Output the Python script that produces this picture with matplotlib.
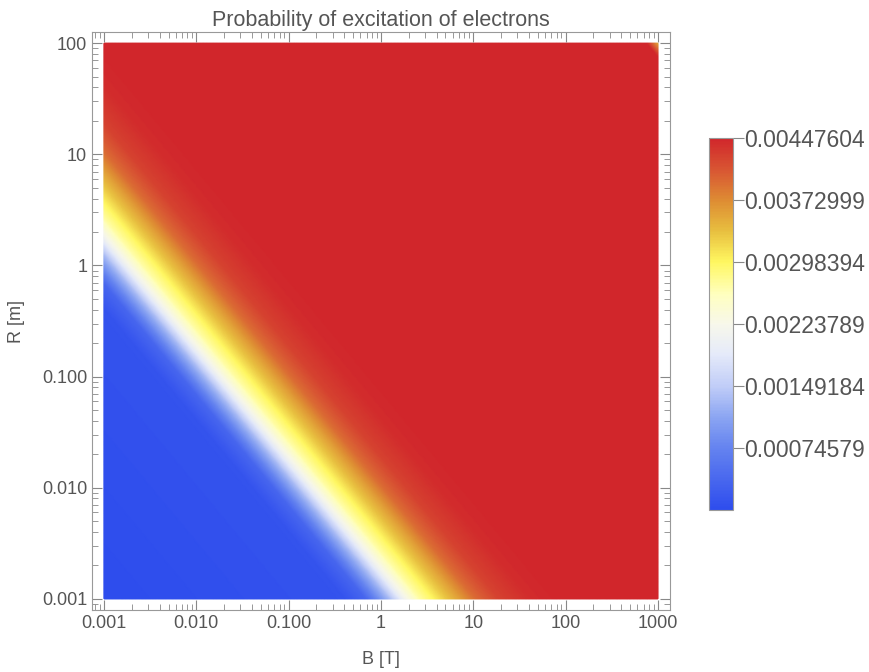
import numpy as np
import matplotlib
matplotlib.use("Agg")
import matplotlib.pyplot as plt
from matplotlib.colors import LinearSegmentedColormap, Normalize
from matplotlib.ticker import FixedLocator, FixedFormatter, LogLocator, NullFormatter

plt.rcParams['font.family'] = ['Liberation Sans', 'DejaVu Sans']

# profile of the probability across the band
# s = log10(B) + log10(R), value as a fraction of the maximum
s_profile = [-6.0, -3.4, -3.16, -2.90, -2.74, -2.58, -2.44, -2.30, -2.14, -1.97, -1.71, -1.35, -1.0, 4.88, 5.0]
t_profile = [0.0, 0.02, 0.08, 0.30, 0.48, 0.60, 0.66, 0.73, 0.80, 0.88, 0.95, 0.99, 1.0, 1.0, 0.80]

p_max = 0.00447604
cbar_ticks = [0.00074579, 0.00149184, 0.00223789, 0.00298394, 0.00372999, 0.00447604]
cbar_labels = ["0.00074579", "0.00149184", "0.00223789", "0.00298394", "0.00372999", "0.00447604"]
p_min = cbar_ticks[0] - (cbar_ticks[1] - cbar_ticks[0])

x_ticks = [0.001, 0.01, 0.1, 1, 10, 100, 1000]
x_labels = ["0.001", "0.010", "0.100", "1", "10", "100", "1000"]
y_ticks = [0.001, 0.01, 0.1, 1, 10, 100]
y_labels = ["0.001", "0.010", "0.100", "1", "10", "100"]

# temperature-map like colours
cmap_pts = [
    (0.00, (0.18, 0.30, 0.93)),
    (0.17, (0.40, 0.52, 0.94)),
    (0.25, (0.55, 0.65, 0.95)),
    (0.33, (0.75, 0.80, 0.97)),
    (0.42, (0.90, 0.92, 0.98)),
    (0.50, (0.97, 0.97, 0.92)),
    (0.58, (1.00, 1.00, 0.75)),
    (0.667, (1.00, 0.97, 0.38)),
    (0.75, (0.91, 0.75, 0.25)),
    (0.833, (0.87, 0.55, 0.20)),
    (0.91, (0.85, 0.35, 0.20)),
    (1.00, (0.82, 0.15, 0.17)),
]
cmap = LinearSegmentedColormap.from_list("temp", cmap_pts)

lb = np.linspace(-3, 3, 500)
lr = np.linspace(-3, 2, 500)
LB, LR = np.meshgrid(lb, lr)
P = np.interp(LB + LR, s_profile, t_profile) * p_max

fig = plt.figure(figsize=(8.69, 6.72), dpi=100)
ax = fig.add_axes([0.1059, 0.0923, 0.665, 0.860])
norm = Normalize(vmin=p_min, vmax=p_max)
mesh = ax.pcolormesh(10 ** lb, 10 ** lr, P, cmap=cmap, norm=norm, shading='gouraud', rasterized=True)
ax.set_xscale('log')
ax.set_yscale('log')
ax.set_xlim(10 ** -3.13, 10 ** 3.13)
ax.set_ylim(10 ** -3.1, 10 ** 2.1)

gray = '#555555'
for sp in ax.spines.values():
    sp.set_color('#999999')
ax.xaxis.set_major_locator(FixedLocator(x_ticks))
ax.xaxis.set_major_formatter(FixedFormatter(x_labels))
ax.yaxis.set_major_locator(FixedLocator(y_ticks))
ax.yaxis.set_major_formatter(FixedFormatter(y_labels))
ax.xaxis.set_minor_locator(LogLocator(base=10, subs=np.arange(2, 10), numticks=20))
ax.yaxis.set_minor_locator(LogLocator(base=10, subs=np.arange(2, 10), numticks=20))
ax.xaxis.set_minor_formatter(NullFormatter())
ax.yaxis.set_minor_formatter(NullFormatter())
ax.tick_params(which='both', direction='in', top=True, right=True, color='#888888', labelcolor=gray, labelsize=13)
ax.tick_params(which='major', length=7, width=0.8)
ax.tick_params(which='minor', length=4, width=0.6)

ax.set_title("Probability of excitation of electrons", fontsize=15.5, color=gray, pad=4)
ax.set_xlabel("B [T]", fontsize=13, color=gray, labelpad=14)
ax.set_ylabel("R [m]", fontsize=13, color=gray, labelpad=12)

cax = fig.add_axes([0.816, 0.241, 0.0276, 0.5536])
cb = fig.colorbar(mesh, cax=cax)
cb.set_ticks(cbar_ticks)
cb.set_ticklabels(cbar_labels)
cb.outline.set_edgecolor('#999999')
cb.outline.set_linewidth(0.8)
cax.tick_params(direction='out', length=8, width=0.8, color='#888888', labelcolor=gray, labelsize=16.5, pad=0)

fig.savefig("out.png", dpi=100)
